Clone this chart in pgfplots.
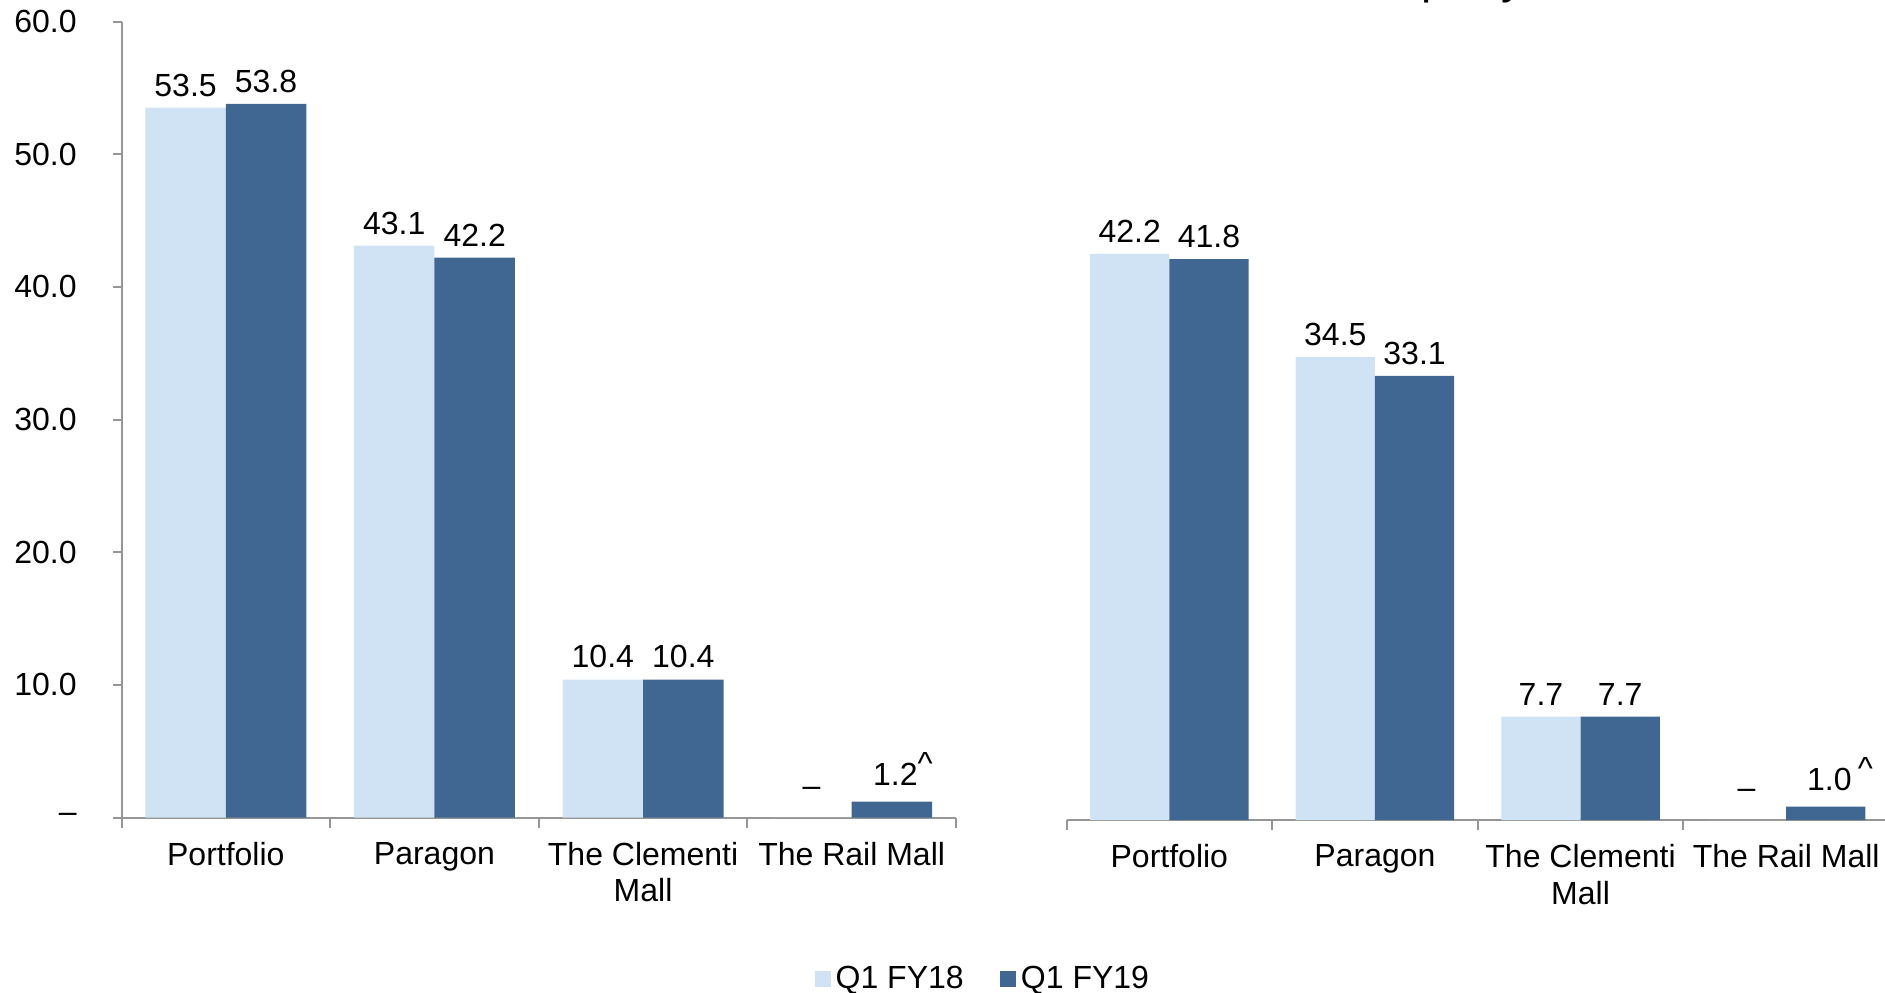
\documentclass[border=0pt]{standalone}
\usepackage{pgfplots}
\pgfplotsset{compat=1.18}
\usepackage{fontspec}
\setmainfont{Liberation Sans}
\definecolor{lightbar}{RGB}{208,227,244}
\definecolor{darkbar}{RGB}{63,103,145}
\definecolor{axisgray}{RGB}{150,150,150}
\newcommand{\fs}{\fontsize{12.8}{14.6}\selectfont}
\newcommand{\car}[1]{\rlap{\hspace{#1}\raisebox{4.6pt}{\textasciicircum}}}
\newcommand{\caretlabel}[2]{\raisebox{1.9pt}{\hspace{2.8pt}#1\car{#2}}}
\newcommand{\zerolabel}{\raisebox{4pt}{–}}
\pgfplotsset{
  mybar/.style={
    scale only axis,
    ybar=0pt,
    ymin=0, ymax=60,
    xmin=-0.5, xmax=3.5,
    xtick={0,1,2,3},
    xticklabels={Portfolio,Paragon,The Clementi\\Mall,The Rail Mall},
    xticklabel style={align=center, font=\fs, text=black, yshift=-2.9pt},
    yticklabel style={font=\fs, text=black, xshift=-11pt},
    every major x tick/.append style={draw=none},
    minor xtick={-0.5,0.5,1.5,2.5,3.5},
    tick align=outside,
    major tick length=3.4pt,
    minor tick length=4pt,
    axis line style={axisgray, line width=0.8pt, -},
    every tick/.append style={axisgray, line width=0.8pt},
    /pgf/number format/assume math mode=true,
    nodes near coords,
    point meta=explicit symbolic,
    every node near coord/.append style={font=\fs, text=black, yshift=1pt},
  },
  barimg/.style={legend image code/.code={\fill[##1] (0pt,-3.2pt) rectangle (6.4pt,3.2pt);}},
}
\begin{document}
\begin{tikzpicture}
\begin{axis}[mybar,
  at={(48.6pt,69.8pt)}, anchor=south west,
  width=333.8pt, height=318.4pt,
  bar width=32.2pt,
  axis x line*=bottom, axis y line*=left,
  ytick={0,10,20,30,40,50,60},
  yticklabels={–,10.0,20.0,30.0,40.0,50.0,60.0},
  legend style={at={(1.034,-0.203)}, anchor=center, draw=none, fill=none,
    legend columns=2, font=\fs, inner sep=0pt,
    /tikz/every even column/.append style={column sep=12.5pt}},
  legend cell align=left,
]
\addplot[fill=lightbar, draw=none, barimg] coordinates {(0,53.5)[53.5] (1,43.1)[43.1] (2,10.4)[10.4] (3,0)[\zerolabel]};
\addlegendentry{Q1 FY18}
\addplot[fill=darkbar, draw=none, barimg] coordinates {(0,53.8)[53.8] (1,42.2)[42.2] (2,10.4)[10.4] (3,1.2)[\caretlabel{1.2}{0pt}]};
\addlegendentry{Q1 FY19}
\end{axis}
\begin{axis}[mybar,
  at={(426.6pt,68.8pt)}, anchor=south west,
  width=329pt, height=322pt,
  bar width=31.7pt,
  axis x line*=bottom, axis y line=none,
]
\addplot[fill=lightbar, draw=none] coordinates {(0,42.2)[42.2] (1,34.5)[34.5] (2,7.7)[7.7] (3,0)[\zerolabel]};
\addplot[fill=darkbar, draw=none] coordinates {(0,41.8)[41.8] (1,33.1)[33.1] (2,7.7)[7.7] (3,1.0)[\caretlabel{1.0}{2.5pt}]};
\end{axis}
\node[font=\fontsize{18.4}{22}\selectfont, anchor=base] at (590.8pt,399.5pt) {Net Property Income};
\pgfresetboundingbox
\path[use as bounding box] (0,0) rectangle (754pt,396.8pt);
\end{tikzpicture}
\end{document}
